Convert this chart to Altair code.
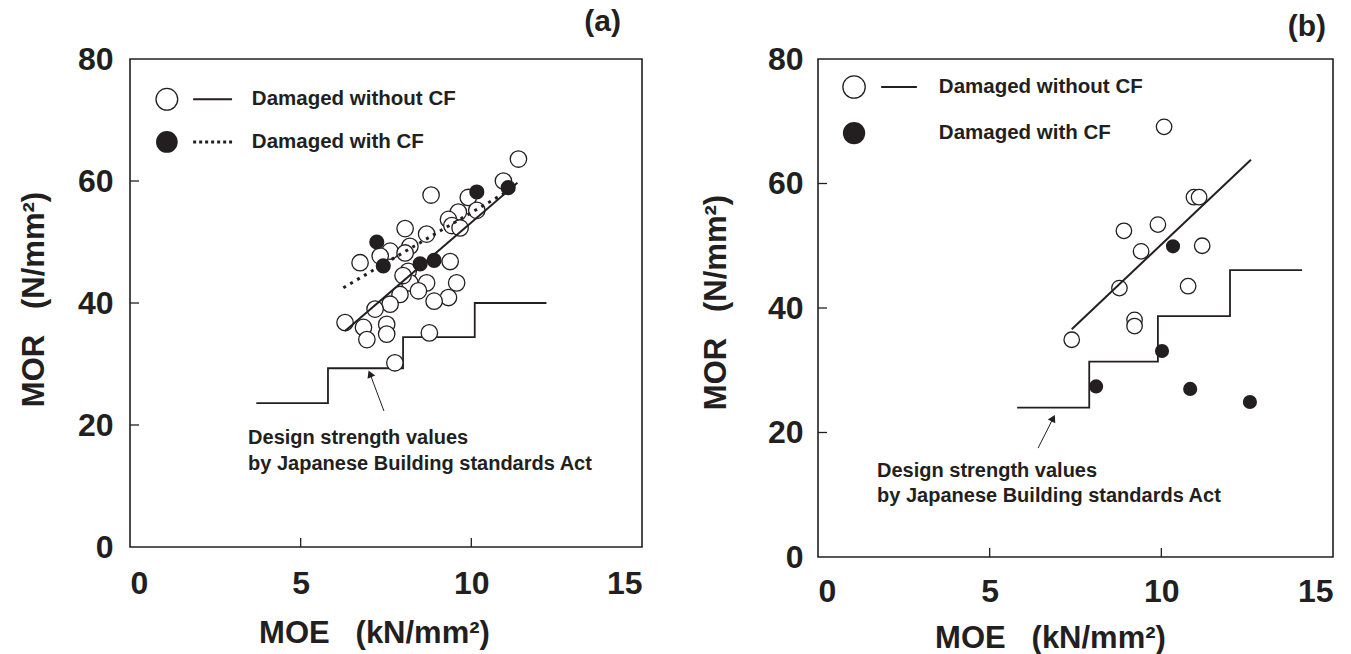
import altair as alt
import pandas as pd

FONT = "Liberation Sans"
INK = "#231f20"

# ---------------- data ----------------
# panel (a)
a_open_x = [11.38, 10.94, 9.91, 10.16, 8.82, 9.62, 9.33, 9.43, 9.67, 8.06, 8.69, 7.62, 8.20, 8.06,
            6.74, 7.33, 9.38, 8.15, 8.69, 8.20, 9.57, 8.45, 7.91, 9.33, 8.91, 7.62, 7.18, 6.30,
            6.84, 7.52, 7.52, 6.94, 8.77, 7.76, 8.00]
a_open_y = [63.6, 60.0, 57.3, 55.2, 57.7, 54.9, 53.7, 52.7, 52.3, 52.2, 51.3, 48.5, 49.3, 48.2,
            46.6, 47.7, 46.8, 45.2, 43.3, 43.3, 43.3, 42.0, 41.4, 40.9, 40.3, 39.8, 39.0, 36.8,
            36.0, 36.5, 34.9, 34.0, 35.1, 30.2, 44.5]
a_fill_x = [7.23, 7.42, 8.50, 8.91, 10.16, 11.08]
a_fill_y = [50.0, 46.1, 46.4, 47.0, 58.2, 58.9]
a_fit_x = [6.30, 11.35]
a_fit_y = [35.4, 59.7]
a_dot_x = [6.25, 11.0]
a_dot_y = [42.5, 58.1]
a_stair_x = [3.7, 5.8, 5.8, 8.0, 8.0, 10.1, 10.1, 12.2]
a_stair_y = [23.6, 23.6, 29.3, 29.3, 34.4, 34.4, 40.0, 40.0]
a_arrow_x = [7.44, 7.03]
a_arrow_y = [22.3, 28.4]

# panel (b)
b_open_x = [10.08, 10.95, 11.10, 8.91, 9.90, 9.41, 8.78, 9.22, 9.22, 7.39, 11.19, 10.78]
b_open_y = [69.1, 57.8, 57.8, 52.4, 53.4, 49.1, 43.2, 38.1, 37.1, 34.9, 50.0, 43.5]
b_fill_x = [8.10, 10.02, 10.34, 10.84, 12.58]
b_fill_y = [27.4, 33.1, 49.9, 27.0, 24.9]
b_fit_x = [7.39, 12.61]
b_fit_y = [36.6, 63.8]
b_stair_x = [5.8, 7.9, 7.9, 9.9, 9.9, 12.0, 12.0, 14.1]
b_stair_y = [24.0, 24.0, 31.4, 31.4, 38.7, 38.7, 46.1, 46.1]
b_arrow_x = [6.41, 6.85]
b_arrow_y = [17.5, 22.3]

x_ticks = [0, 5, 10, 15]
y_ticks = [0, 20, 40, 60, 80]
legend_labels = ["Damaged without CF", "Damaged with CF"]
note_lines = ["Design strength values", "by Japanese Building standards Act"]
x_title = "MOE\u00a0\u00a0\u00a0(kN/mm\u00b2)"
y_title = "MOR\u00a0\u00a0\u00a0(N/mm\u00b2)"


def panel(tag, w, h, open_x, open_y, fill_x, fill_y, fit_x, fit_y, dot_x, dot_y,
          stair_x, stair_y, arrow_x, arrow_y, arrow_angle, note_x, note_y,
          leg_cx, leg_lx, leg_tx, leg_y, tag_x, tag_y,
          xtitle_pos, ytitle_pos, open_size, fill_size, leg_size, xpad, ypad):
    xs = alt.Scale(domain=[0, 15], nice=False, zero=False)
    ys = alt.Scale(domain=[0, 80], nice=False, zero=False)
    xax = alt.Axis(values=x_ticks, format="d", title=x_title, ticks=False, domain=False,
                   grid=False, labelPadding=xpad, titleX=xtitle_pos[0], titleY=xtitle_pos[1],
                   titleBaseline="middle", titleAlign="center")
    yax = alt.Axis(values=y_ticks, format="d", title=y_title, ticks=False, domain=False,
                   grid=False, labelPadding=ypad, titleX=ytitle_pos[0], titleY=ytitle_pos[1],
                   titleBaseline="middle", titleAlign="center", titleAngle=270)

    def X(f="x"):
        return alt.X(f"{f}:Q", scale=xs, axis=xax)

    def Y(f="y"):
        return alt.Y(f"{f}:Q", scale=ys, axis=yax)

    stair = pd.DataFrame({"x": stair_x, "y": stair_y, "i": range(len(stair_x))})
    opn = pd.DataFrame({"x": open_x, "y": open_y})
    fil = pd.DataFrame({"x": fill_x, "y": fill_y})
    fit = pd.DataFrame({"x": fit_x, "y": fit_y})
    arr = pd.DataFrame({"x": arrow_x, "y": arrow_y})
    head = arr.iloc[[1]]
    notes = pd.DataFrame({"x": [note_x] * 2, "y": note_y, "t": note_lines})
    leg_open = pd.DataFrame({"x": [leg_cx], "y": [leg_y[0]]})
    leg_fill = pd.DataFrame({"x": [leg_cx], "y": [leg_y[1]]})
    leg_txt = pd.DataFrame({"x": [leg_tx] * 2, "y": leg_y, "t": legend_labels})
    leg_solid = pd.DataFrame({"x": leg_lx, "y": [leg_y[0]] * 2})
    ytk = pd.DataFrame({"v": [20, 40, 60]})
    xtk = pd.DataFrame({"v": [5, 10]})

    layers = [
        alt.Chart(stair).mark_line(color=INK, strokeWidth=1.8, interpolate="linear")
        .encode(x=X(), y=Y(), order="i:Q"),
        alt.Chart(opn).mark_point(shape="circle", filled=True, fill="white", stroke=INK,
                                  strokeWidth=1.3, size=open_size, opacity=1)
        .encode(x=X(), y=Y()),
        alt.Chart(fil).mark_point(shape="circle", filled=True, color=INK, size=fill_size, opacity=1)
        .encode(x=X(), y=Y()),
        alt.Chart(fit).mark_line(color=INK, strokeWidth=2).encode(x=X(), y=Y()),
        alt.Chart(arr).mark_line(color=INK, strokeWidth=1).encode(x=X(), y=Y()),
        alt.Chart(head).mark_point(shape="triangle-up", filled=True, color=INK, size=70,
                                   angle=arrow_angle, opacity=1).encode(x=X(), y=Y()),
        alt.Chart(notes).mark_text(align="left", baseline="middle", font=FONT, fontSize=20,
                                   fontWeight="bold", color=INK)
        .encode(x=X(), y=Y(), text="t:N"),
        alt.Chart(leg_open).mark_point(shape="circle", filled=True, fill="white",
                                       stroke=INK, strokeWidth=1.3, size=leg_size, opacity=1)
        .encode(x=X(), y=Y()),
        alt.Chart(leg_fill).mark_point(shape="circle", filled=True, color=INK,
                                       size=leg_size, opacity=1)
        .encode(x=X(), y=Y()),
        alt.Chart(leg_solid).mark_line(color=INK, strokeWidth=1.8).encode(x=X(), y=Y()),
        alt.Chart(leg_txt).mark_text(align="left", baseline="middle", font=FONT, fontSize=20.5,
                                     fontWeight="bold", color=INK)
        .encode(x=X(), y=Y(), text="t:N"),
        alt.Chart(ytk).mark_rule(color=INK, strokeWidth=1.3)
        .encode(y=alt.Y("v:Q", scale=ys, axis=yax), x=alt.value(0), x2=alt.value(9)),
        alt.Chart(xtk).mark_rule(color=INK, strokeWidth=1.3)
        .encode(x=alt.X("v:Q", scale=xs, axis=xax), y=alt.value(h), y2=alt.value(h - 9)),
        alt.Chart(pd.DataFrame({"t": [tag]})).mark_text(align="right", baseline="middle", font=FONT,
                                                        fontSize=30, fontWeight="bold", color=INK)
        .encode(x=alt.value(tag_x), y=alt.value(tag_y), text="t:N"),
    ]
    if dot_x is not None:
        dot = pd.DataFrame({"x": dot_x, "y": dot_y})
        leg_dot = pd.DataFrame({"x": leg_lx, "y": [leg_y[1]] * 2})
        layers.insert(4, alt.Chart(dot).mark_line(color=INK, strokeWidth=3, strokeDash=[3, 5])
                      .encode(x=X(), y=Y()))
        layers.append(alt.Chart(leg_dot).mark_line(color=INK, strokeWidth=3, strokeDash=[3, 3])
                      .encode(x=X(), y=Y()))
    return alt.layer(*layers).properties(width=w, height=h)


pa = panel("(a)", 512, 488, a_open_x, a_open_y, a_fill_x, a_fill_y, a_fit_x, a_fit_y,
           a_dot_x, a_dot_y, a_stair_x, a_stair_y, a_arrow_x, a_arrow_y, 337,
           3.46, [17.9, 13.6], 1.08, [1.85, 2.99], 3.57, [73.4, 66.4],
           491, -37, (244, 86), (-96, 240), 270, 230, 470, 21, 17)
pb = panel("(b)", 515, 498, b_open_x, b_open_y, b_fill_x, b_fill_y, b_fit_x, b_fit_y,
           None, None, b_stair_x, b_stair_y, b_arrow_x, b_arrow_y, 27,
           1.72, [13.8, 9.8], 1.05, [1.84, 2.88], 3.52, [75.5, 68.1],
           508, -32, (232, 81), (-102, 243), 240, 200, 500, 19, 15)

chart = (
    alt.hconcat(pa, pb, spacing=56)
    .properties(padding={"left": 17, "top": 6, "right": 0, "bottom": 4})
    .configure_view(stroke=INK, strokeWidth=1.6)
    .configure_axis(labelFont=FONT, labelFontSize=32, labelFontWeight="bold", labelColor=INK,
                    titleFont=FONT, titleFontSize=31, titleFontWeight="bold", titleColor=INK)
)

chart.save("out.html", embed_options={"renderer": "svg", "actions": False})
